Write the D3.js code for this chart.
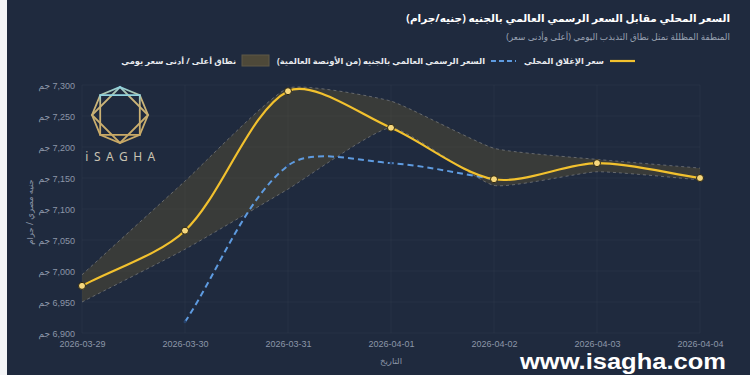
<!DOCTYPE html>
<html>
<head>
<meta charset="utf-8">
<script src="https://cdn.jsdelivr.net/npm/d3@7"></script>
<style>
	html, body { margin:0; padding:0; background:#fff; }
	#chart { width:750px; height:375px; }
	text { font-family: "Noto Sans", "DejaVu Sans", sans-serif; }
	.tick text { font-family: "Liberation Sans", Arial, "DejaVu Sans", sans-serif; }
</style>
</head>
<body>
<div id="chart"><svg></svg></div>
<script>
// values
var dates = ["2026-03-29", "2026-03-30", "2026-03-31", "2026-04-01", "2026-04-02", "2026-04-03", "2026-04-04"];
var localClose = [6976, 7065, 7290, 7231, 7148, 7174, 7150];
var officialPrice = [null, 6918, 7170, 7174, 7148, null, null];
var dayHigh = [6994, 7145, 7295, 7274, 7198, 7180, 7166];
var dayLow = [6950, 7035, 7132, 7231, 7138, 7160, 7147];
var yTicks = [6900, 6950, 7000, 7050, 7100, 7150, 7200, 7250, 7300];

var titleText = "السعر المحلي مقابل السعر الرسمي العالمي بالجنيه (جنيه/جرام)";
var subText = "المنطقة المظللة تمثل نطاق التذبذب اليومي (أعلى وأدنى سعر)";
var legendNames = ["سعر الإغلاق المحلي", "السعر الرسمي العالمي بالجنيه (من الأونصة العالمية)", "نطاق أعلى / أدنى سعر يومي"];

var GOLD = "#f2c12e", BLUE = "#5e9be0", BG = "#1f2a3e";

// wrap arabic in an RTL isolate so brackets and numbers sit right
function rtl(s){ return "\u2067" + s + "\u2069"; }

var svg = d3.select("#chart > svg").attr("width", 750).attr("height", 375);
svg.append("rect").attr("width", 750).attr("height", 375).attr("fill", BG);
svg.append("rect").attr("width", 7).attr("height", 375).attr("fill", "#f4f5f7");

var x = d3.scalePoint().domain(dates).range([82, 700]);
var y = d3.scaleLinear().domain([6900, 7300]).range([333, 85]);

// Chart.js style spline
function splineTo(p, pts, t, move){
	var cps = pts.map(function(cur, i){
		var prev = pts[i-1] || cur, next = pts[i+1] || cur;
		var d01 = Math.hypot(cur[0]-prev[0], cur[1]-prev[1]);
		var d12 = Math.hypot(next[0]-cur[0], next[1]-cur[1]);
		var s01 = d01/(d01+d12), s12 = d12/(d01+d12);
		if(isNaN(s01)) s01 = 0;
		if(isNaN(s12)) s12 = 0;
		var fa = t*s01, fb = t*s12;
		return {
			a:[cur[0]-fa*(next[0]-prev[0]), cur[1]-fa*(next[1]-prev[1])],
			b:[cur[0]+fb*(next[0]-prev[0]), cur[1]+fb*(next[1]-prev[1])]
		};
	});
	if(move) p.moveTo(pts[0][0], pts[0][1]);
	else p.lineTo(pts[0][0], pts[0][1]);
	for(var i = 1; i < pts.length; i++){
		p.bezierCurveTo(cps[i-1].b[0], cps[i-1].b[1], cps[i].a[0], cps[i].a[1], pts[i][0], pts[i][1]);
	}
	return p;
}
function toPts(vals){
	var out = [];
	vals.forEach(function(v, i){ if(v != null) out.push([x(dates[i]), y(v)]); });
	return out;
}

// grid
var g = svg.append("g");
g.selectAll(".gy").data(yTicks).enter().append("line")
	.attr("x1", 82).attr("x2", 700).attr("y1", d => y(d)).attr("y2", d => y(d))
	.attr("stroke", "rgba(255,255,255,0.03)");
g.selectAll(".gx").data(dates).enter().append("line")
	.attr("x1", d => x(d)).attr("x2", d => x(d)).attr("y1", 85).attr("y2", 333)
	.attr("stroke", "rgba(255,255,255,0.03)");

// y axis
var yAxis = d3.axisLeft(y).tickValues(yTicks).tickSize(0).tickPadding(0)
	.tickFormat(d => rtl(d3.format(",")(d) + " جم"));
svg.append("g").attr("transform", "translate(75,0)").call(yAxis)
	.call(s => s.select(".domain").remove())
	.selectAll("text").attr("fill", "#8c96a8").attr("font-size", 9).attr("dy", "0.35em");

// x axis
var xAxis = d3.axisBottom(x).tickSize(0).tickPadding(0);
svg.append("g").attr("transform", "translate(0,341)").call(xAxis)
	.call(s => s.select(".domain").remove())
	.selectAll("text").attr("fill", "#8c96a8").attr("font-size", 9).attr("dy", "0.7em");

// axis titles
svg.append("text").attr("transform", "translate(33,212) rotate(-90)")
	.attr("text-anchor", "middle").attr("fill", "#8c96a8").attr("font-size", 8.5)
	.text(rtl("جنيه مصري / جرام"));
svg.append("text").attr("x", 391).attr("y", 364).attr("text-anchor", "middle")
	.attr("fill", "#8c96a8").attr("font-size", 8.5).text(rtl("التاريخ"));

// logo
var defs = svg.append("defs");
var lg = defs.append("linearGradient").attr("id", "logoGrad").attr("x1", 0).attr("y1", 0).attr("x2", 0).attr("y2", 1);
lg.append("stop").attr("offset", "0%").attr("stop-color", "#8fd3e0");
lg.append("stop").attr("offset", "22%").attr("stop-color", "#cbb57a");
lg.append("stop").attr("offset", "100%").attr("stop-color", "#c9a965");
var logo = svg.append("g").attr("transform", "translate(120,115)")
	.attr("fill", "none").attr("stroke", "url(#logoGrad)").attr("stroke-width", 1.8);
var oct = d3.range(8).map(i => [28*Math.cos(-Math.PI/2 + i*Math.PI/4), 28*Math.sin(-Math.PI/2 + i*Math.PI/4)]);
logo.append("path").attr("d", "M" + oct.join("L") + "Z");
logo.append("path").attr("d", "M" + [oct[0], oct[2], oct[4], oct[6]].join("L") + "Z");
logo.append("path").attr("d", "M" + [oct[1], oct[3], oct[5], oct[7]].join("L") + "Z");
svg.append("text").attr("x", 123).attr("y", 161).attr("text-anchor", "middle")
	.attr("fill", "#c9c3b2").attr("font-size", 12).attr("letter-spacing", 5.5).text("iSAGHA");

// band high / low
var band = d3.path();
splineTo(band, toPts(dayHigh), 0.15, true);
splineTo(band, toPts(dayLow).reverse(), 0.15, false);
band.closePath();
svg.append("path").attr("d", band.toString()).attr("fill", "rgba(120,100,45,0.3)");
[dayHigh, dayLow].forEach(function(arr){
	svg.append("path").attr("d", splineTo(d3.path(), toPts(arr), 0.15, true).toString())
		.attr("fill", "none").attr("stroke", "rgba(170,170,170,0.45)")
		.attr("stroke-width", 1).attr("stroke-dasharray", "3,3");
});

// official price
var offPts = toPts(officialPrice);
svg.append("path").attr("d", splineTo(d3.path(), offPts, 0.32, true).toString())
	.attr("fill", "none").attr("stroke", BLUE).attr("stroke-width", 2).attr("stroke-dasharray", "6,4");
svg.selectAll(".op").data(offPts).enter().append("circle")
	.attr("cx", d => d[0]).attr("cy", d => d[1]).attr("r", 1.5).attr("fill", "#27426b");

// local close
var locPts = toPts(localClose);
svg.append("path").attr("d", splineTo(d3.path(), locPts, 0.3, true).toString())
	.attr("fill", "none").attr("stroke", GOLD).attr("stroke-width", 2.2);
svg.selectAll(".lp").data(locPts).enter().append("circle")
	.attr("cx", d => d[0]).attr("cy", d => d[1]).attr("r", 3.5)
	.attr("fill", "#f6d77c").attr("stroke", "#2a2410").attr("stroke-width", 1);

// title block
svg.append("text").attr("x", 730).attr("y", 22).attr("text-anchor", "end")
	.attr("fill", "#ffffff").attr("font-size", 10.5).attr("font-weight", "bold").text(rtl(titleText));
svg.append("text").attr("x", 730).attr("y", 40).attr("text-anchor", "end")
	.attr("fill", "#9aa3b3").attr("font-size", 8.8).text(rtl(subText));

// legend, laid out right to left
var lx = 635, ly = 61;
legendNames.forEach(function(name, i){
	var item = svg.append("g");
	if(i === 0){
		item.append("line").attr("x1", lx-25).attr("x2", lx).attr("y1", ly).attr("y2", ly)
			.attr("stroke", GOLD).attr("stroke-width", 2.2);
	} else if(i === 1){
		item.append("line").attr("x1", lx-25).attr("x2", lx).attr("y1", ly).attr("y2", ly)
			.attr("stroke", BLUE).attr("stroke-width", 2).attr("stroke-dasharray", "5,3");
	} else {
		item.append("rect").attr("x", lx-27).attr("y", ly-6).attr("width", 27).attr("height", 11)
			.attr("fill", "#4e4939").attr("stroke", "#5e5847").attr("stroke-width", 1);
	}
	var sw = i === 2 ? 27 : 25;
	var t = item.append("text").attr("x", lx-sw-6).attr("y", ly+3).attr("text-anchor", "end")
		.attr("fill", "#e8eaee").attr("font-size", 8.3).attr("font-weight", "bold").text(rtl(name));
	lx = lx - sw - 6 - t.node().getComputedTextLength() - 8;
});

// watermark
svg.append("text").attr("x", 520).attr("y", 369)
	.attr("textLength", 206).attr("lengthAdjust", "spacingAndGlyphs")
	.attr("fill", "#ffffff").attr("font-size", 22).attr("font-weight", "bold")
	.style("font-family", "'Liberation Sans', Arial, sans-serif").text("www.isagha.com");
</script>
</body>
</html>
